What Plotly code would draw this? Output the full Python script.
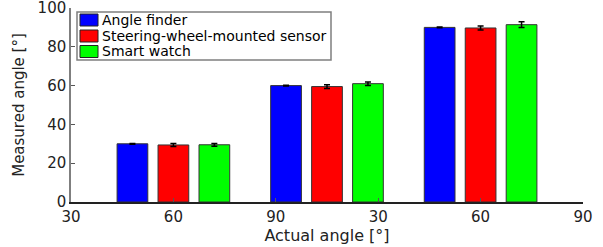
import plotly.graph_objects as go

# ---- data ----
tick_labels = ["30", "60", "90", "30", "60", "90"]
series_names = ["Angle finder", "Steering-wheel-mounted sensor", "Smart watch"]
angle_finder = [30.0, 60.0, 90.0]
angle_finder_err = [0.2, 0.2, 0.2]
steering_sensor = [29.4, 59.5, 89.7]
steering_sensor_err = [0.8, 1.0, 1.0]
smart_watch = [29.5, 61.0, 91.4]
smart_watch_err = [0.7, 0.9, 1.5]

# ---- layout constants ----
group_pos = [1, 2.5, 4]
colors = ["#0000ff", "#ff0000", "#00ff00"]
offsets = [-0.55, -0.15, 0.25]
bar_w = 0.3
FONT = "DejaVu Sans"

fig = go.Figure()
vals = [angle_finder, steering_sensor, smart_watch]
errs = [angle_finder_err, steering_sensor_err, smart_watch_err]
for name, v, e, c, off in zip(series_names, vals, errs, colors, offsets):
    fig.add_trace(go.Bar(
        x=group_pos, y=v, name=name, width=bar_w, offset=off,
        marker=dict(color=c, line=dict(color="#333333", width=1)),
        error_y=dict(type="data", array=e, color="black", thickness=1.5, width=3),
        showlegend=False,
    ))

# manual legend (MATLAB style)
L, R, T, B = 71, 583, 8, 202
def px(x):
    return (x - L) / (R - L)
def py(y):
    return (B - y) / (B - T)

shapes = [dict(type="rect", xref="paper", yref="paper",
               x0=px(77), x1=px(331), y0=py(60), y1=py(12),
               line=dict(color="#7f7f7f", width=1.5), fillcolor="white", layer="above")]
annotations = []
rows = [20, 36, 51.5]
for name, c, yc in zip(series_names, colors, rows):
    shapes.append(dict(type="rect", xref="paper", yref="paper",
                       x0=px(80), x1=px(98), y0=py(yc + 6), y1=py(yc - 6),
                       line=dict(color="#222222", width=1), fillcolor=c, layer="above"))
    annotations.append(dict(xref="paper", yref="paper", x=px(100), y=py(yc),
                            xanchor="left", yanchor="middle", showarrow=False,
                            text=name, font=dict(family=FONT, size=14, color="black")))

fig.update_layout(
    width=603, height=247,
    margin=dict(l=L, r=603 - R, t=T, b=247 - B),
    paper_bgcolor="white", plot_bgcolor="white",
    barmode="overlay",
    font=dict(family=FONT, size=15, color="#222222"),
    shapes=shapes, annotations=annotations,
    xaxis=dict(range=[0, 5], tickmode="array", tickvals=[0, 1, 2, 3, 4, 5],
               ticktext=tick_labels, showgrid=False, zeroline=False,
               showline=True, linecolor="#222222", linewidth=1.5,
               ticks="inside", ticklen=4, tickcolor="#555555",
               ticklabelstandoff=0, automargin=False, ticklabeloverflow="allow",
               title=dict(text="Actual angle [°]", font=dict(size=16), standoff=0)),
    yaxis=dict(range=[0, 100], tickvals=[0, 20, 40, 60, 80, 100], showgrid=False,
               zeroline=False, showline=True, linecolor="#7f7f7f", linewidth=1.5,
               ticks="inside", ticklen=4, tickcolor="#555555",
               automargin=False, ticklabeloverflow="allow",
               title=dict(text="Measured angle [°]", font=dict(size=15), standoff=9)),
)

fig.write_html("out.html", config={"displayModeBar": False},
               post_script="document.body.style.margin='0';document.body.style.overflow='hidden';")
